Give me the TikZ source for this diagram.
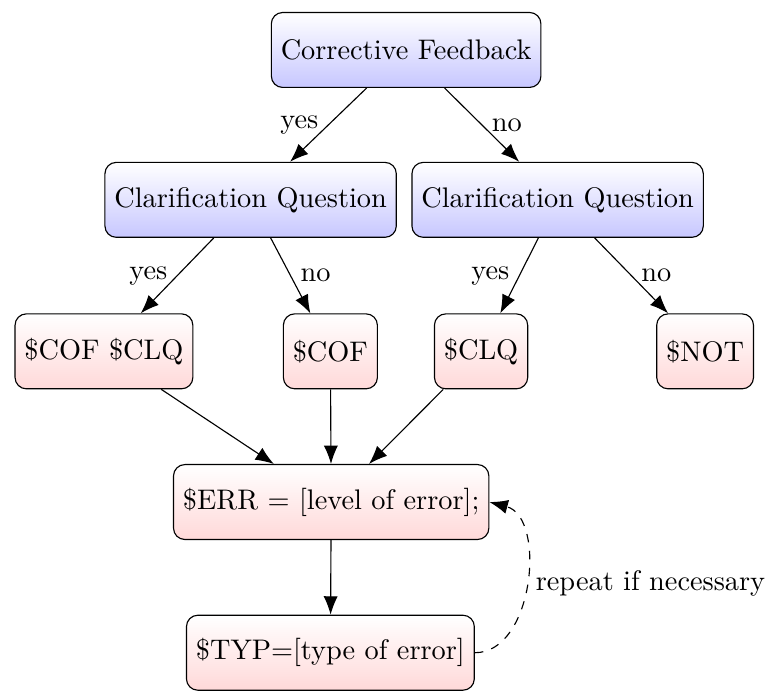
\documentclass[tikz,border=0pt]{standalone}
\usetikzlibrary{arrows.meta}
\begin{document}
\begin{tikzpicture}[
		>={Latex[length=6.5pt,width=5pt]},
		upbox/.style={draw,rounded corners=4pt,minimum height=0.93cm,top color=white,bottom color=blue!22},
		lowbox/.style={draw,rounded corners=4pt,minimum height=0.93cm,top color=white,bottom color=red!15}]
		\useasboundingbox (0,0) rectangle (9.605,-8.563);
		\node[upbox] (cf) at (5.04,-0.62) {Corrective Feedback};
		\node[upbox] (cqyes) at (3.11,-2.48) {Clarification Question};
		\node[upbox] (cqno) at (6.92,-2.48) {Clarification Question};
		\node[lowbox] (cofclq) at (1.29,-4.36) {\$COF \$CLQ};
		\node[lowbox] (cof) at (4.10,-4.36) {\$COF};
		\node[lowbox] (clq) at (5.97,-4.36) {\$CLQ};
		\node[lowbox] (nocf) at (8.75,-4.36) {\$NOT};
		\node[lowbox] (err) at (4.11,-6.23) {\$ERR = [level of error];};
		\node[lowbox] (typ) at (4.10,-8.10) {\$TYP=[type of error]};
		\draw[->] (cf) -- node[left] {yes} (cqyes);
		\draw[->] (cf) -- node[right] {no} (cqno);
		\draw[->] (cqyes) -- node[left] {yes} (cofclq);
		\draw[->] (cqyes) -- node[right] {no} (cof);
		\draw[->] (cqno) -- node[left] {yes} (clq);
		\draw[->] (cqno) -- node[right] {no} (nocf);
		\draw[->] (cofclq) -- (err);
		\draw[->] (cof) -- (err);
		\draw[->] (clq) -- (err);
		\draw[->] (err) -- (typ);
		\draw[->,dashed] (typ.east) to[out=0,in=-15] node[right] {repeat if necessary} (err.east);
	\end{tikzpicture}
\end{document}
